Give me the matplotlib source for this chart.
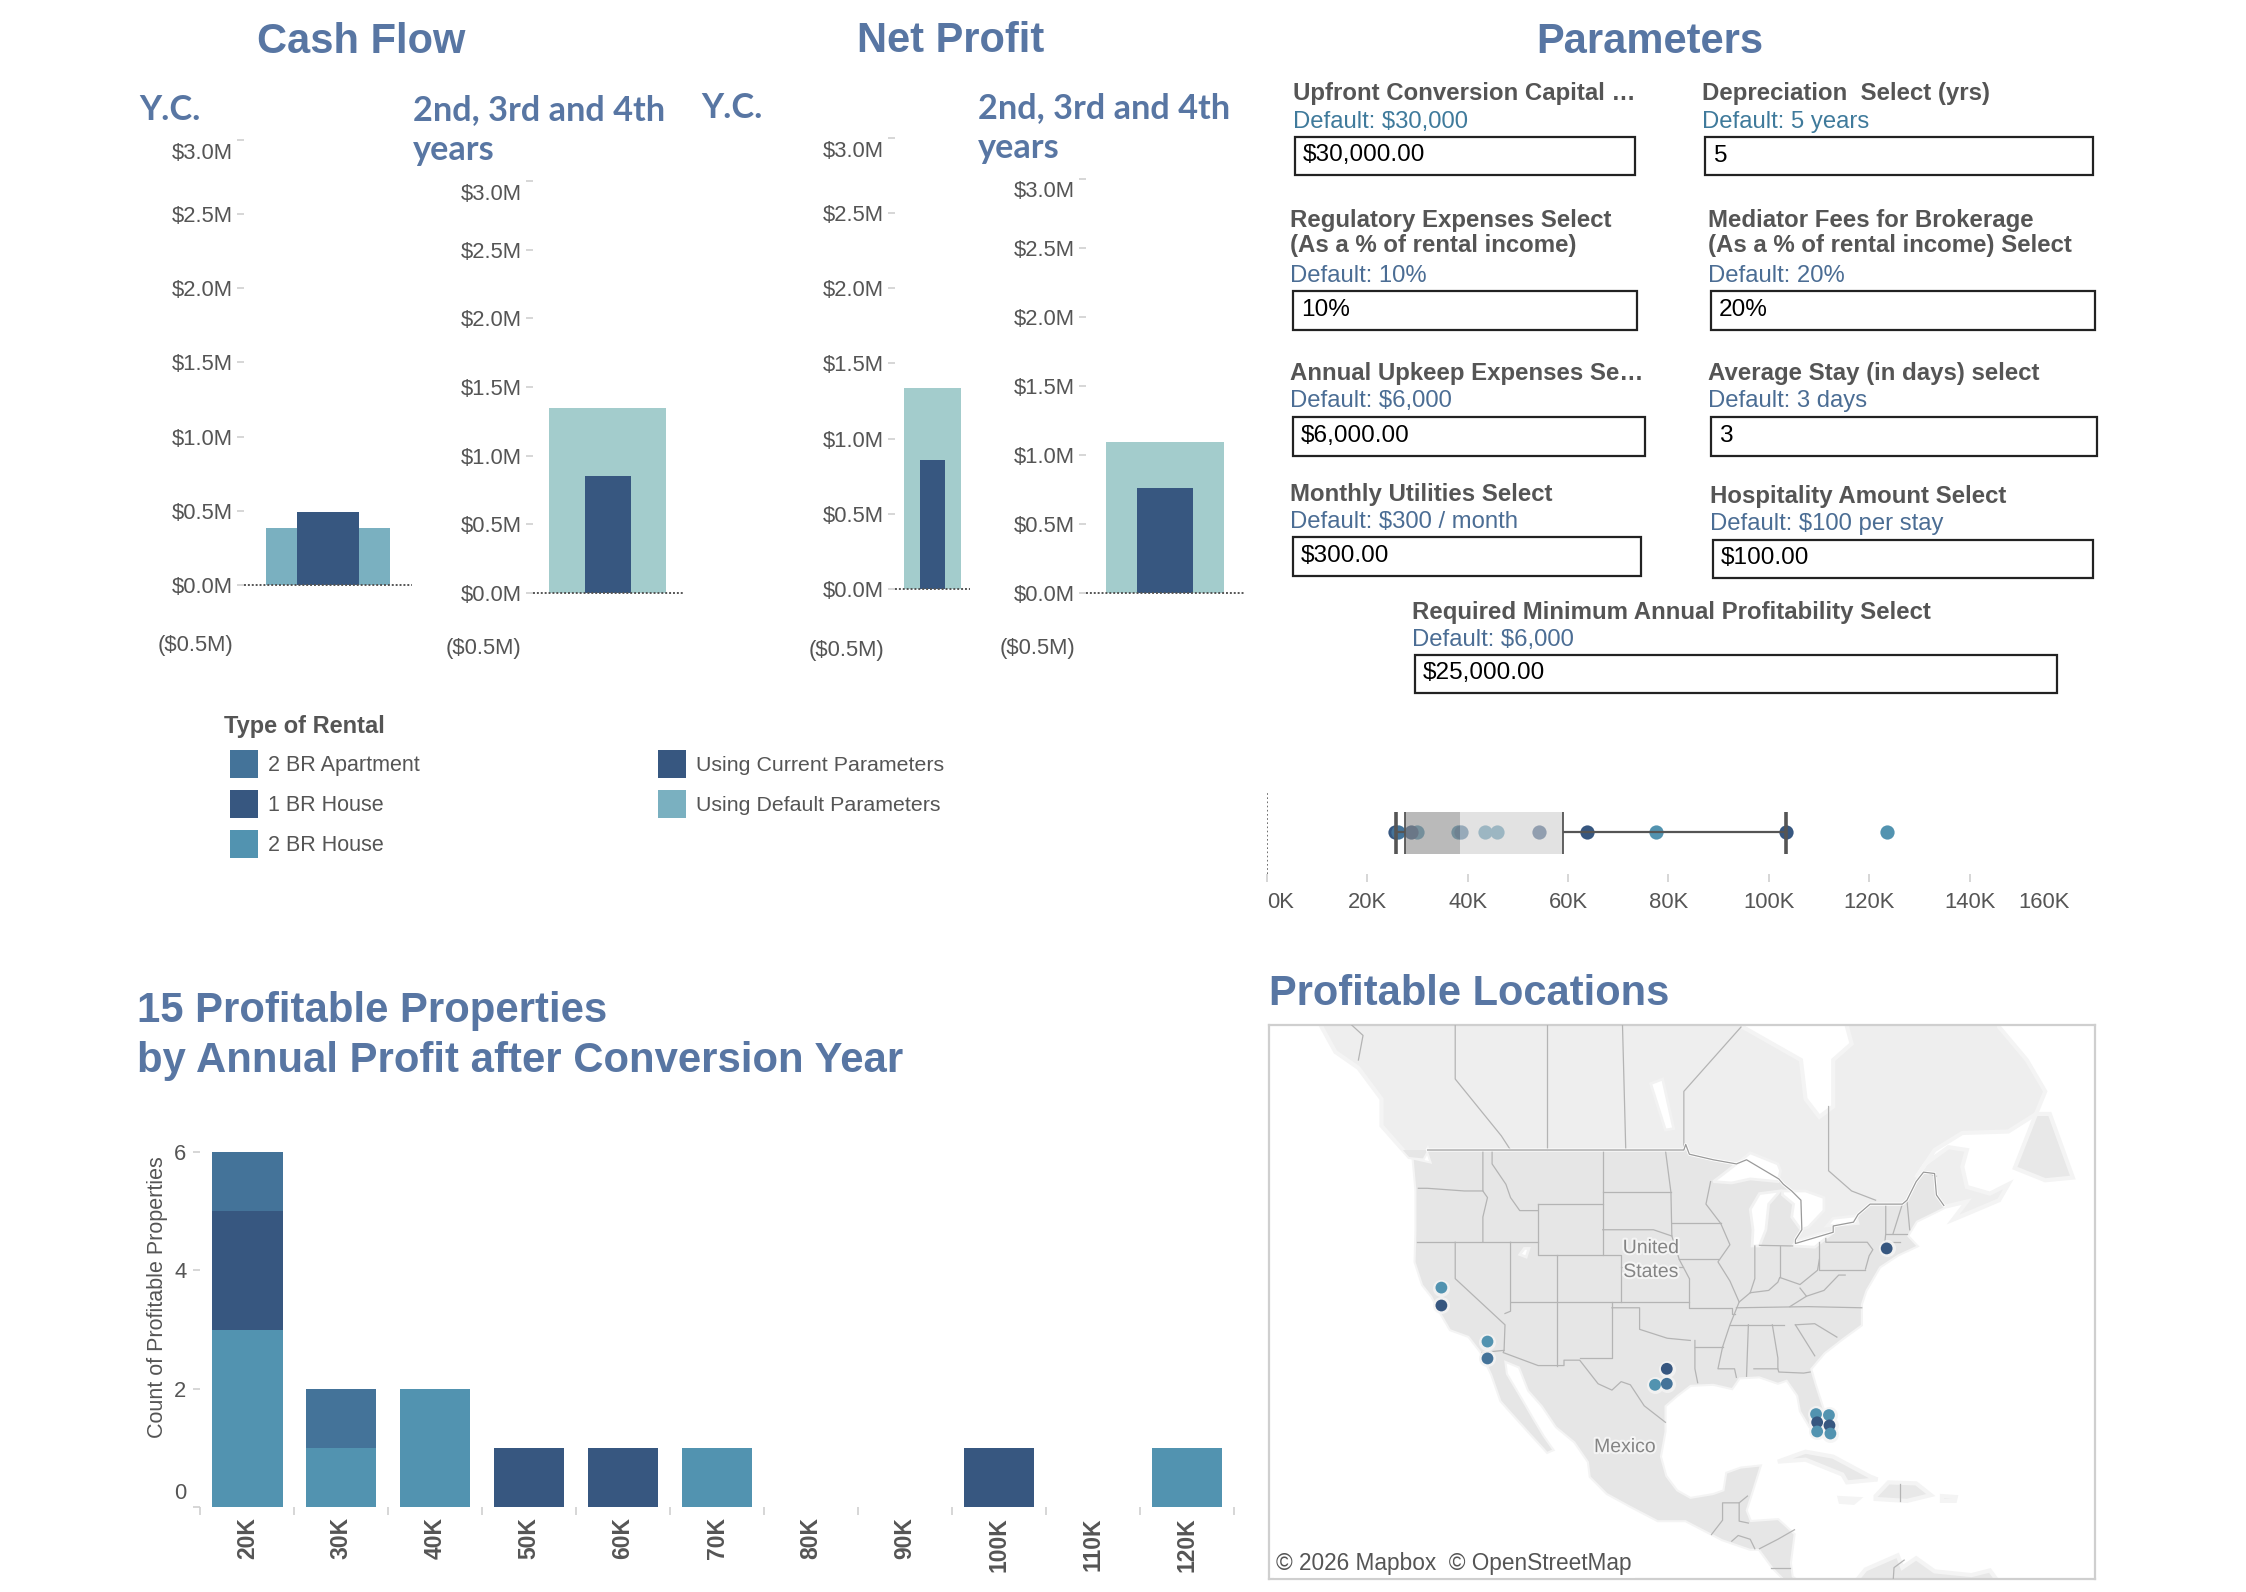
import numpy as np
import matplotlib
matplotlib.use('Agg')
import matplotlib.pyplot as plt
import matplotlib.patheffects as pe
from matplotlib.patches import Rectangle

W, H = 2246, 1592
plt.rcParams['font.family'] = ['Liberation Sans', 'DejaVu Sans']

TITLE = '#5876a3'
GREY = '#555555'
TICK = '#cfcfcf'
APT = '#447399'
HOUSE1 = '#375780'
HOUSE2 = '#5293b0'
DEFAULT_DARK = '#7ab0c0'
DEFAULT_LIGHT = '#a3cccc'

# bullet panels, $M
money_ticks = [-0.5, 0, 0.5, 1.0, 1.5, 2.0, 2.5, 3.0]
money_labels = ['($0.5M)', '$0.0M', '$0.5M', '$1.0M', '$1.5M', '$2.0M', '$2.5M', '$3.0M']
cash_default = [0.38, 1.345]
cash_current = [0.488, 0.85]
profit_default = [1.336, 1.09]
profit_current = [0.858, 0.757]

# histogram
bins = ['20K', '30K', '40K', '50K', '60K', '70K', '80K', '90K', '100K', '110K', '120K']
count_house2 = [3, 1, 2, 0, 0, 1, 0, 0, 0, 0, 1]
count_house1 = [2, 0, 0, 1, 1, 0, 0, 0, 1, 0, 0]
count_apt = [1, 1, 0, 0, 0, 0, 0, 0, 0, 0, 0]

# box plot, annual profit in $K
profit_house2 = [29.9, 38.0, 43.4, 45.9, 77.6, 123.6]
profit_house1 = [25.6, 28.8, 54.3, 63.8, 103.4]
profit_apt = [26.2, 38.6]
box_low, box_q1, box_median, box_q3, box_high = 25.7, 27.6, 38.5, 59.0, 103.4
box_ticks = [0, 20, 40, 60, 80, 100, 120, 140, 160]

# map points (lon, lat)
map_lon = [-121.5, -121.5, -116.5, -116.5, -97.05, -97.05, -98.33, -73.2,
           -80.86, -79.46, -80.74, -79.4, -80.74, -79.3]
map_lat = [38.24, 36.7, 33.5, 31.96, 31.0, 29.6, 29.5, 41.5,
           26.7, 26.6, 25.9, 25.6, 25.0, 24.8]
map_type = ['2', '1', '2', 'a', '1', 'a', '2', '1', '2', '2', '1', '1', '2', '2']

# parameters
param_labels = ['Upfront Conversion Capital …', 'Depreciation  Select (yrs)',
                'Regulatory Expenses Select\n(As a % of rental income)',
                'Mediator Fees for Brokerage\n(As a % of rental income) Select',
                'Annual Upkeep Expenses Se…', 'Average Stay (in days) select',
                'Monthly Utilities Select', 'Hospitality Amount Select',
                'Required Minimum Annual Profitability Select']
param_defaults = ['Default: $30,000', 'Default: 5 years', 'Default: 10%', 'Default: 20%',
                  'Default: $6,000', 'Default: 3 days', 'Default: $300 / month',
                  'Default: $100 per stay', 'Default: $6,000']
param_values = ['$30,000.00', '5', '10%', '20%', '$6,000.00', '3', '$300.00', '$100.00', '$25,000.00']
# left, right, top, bottom of each input box, in pixels
param_boxes = [(1295, 1635, 137, 175), (1705, 2093, 137, 175),
               (1293, 1637, 291, 329.5), (1711, 2095, 291, 329.5),
               (1293, 1645, 417, 455.5), (1711, 2097, 417, 455.5),
               (1293, 1641, 537, 575.5), (1713, 2093, 539.5, 577.5),
               (1415, 2057, 654.5, 693)]

# rough land shapes for the base map (lon, lat)
mainland = [(-137, 58.5), (-135, 57.5), (-133, 55.5), (-130.5, 54.5), (-128, 52.5), (-128, 50.7), (-125, 48.5),
            (-123.5, 48.4), (-123, 49), (-122.5, 48), (-124.5, 48.3), (-124.2, 46), (-124.2, 43), (-124.3, 40.4),
            (-123.5, 38.5), (-122.5, 37.5), (-121.5, 36), (-120.5, 34.6), (-118.5, 34), (-117.2, 32.6), (-116, 30.5),
            (-115, 28), (-114, 27), (-112, 25), (-110, 23), (-109.5, 23.2), (-110.5, 24.5), (-111.5, 26),
            (-112.8, 28), (-114.5, 30.5), (-114.7, 31.8), (-113, 31.2), (-112, 29), (-110.5, 27.5), (-109, 25.5),
            (-107, 24), (-105.5, 22), (-105.3, 20.5), (-103.5, 18.8), (-101, 17.5), (-98, 16), (-95, 16), (-93, 15),
            (-91, 14), (-88, 13), (-87, 13), (-85.5, 11), (-84, 9.5), (-83, 8.3), (-81, 8), (-83.5, 10), (-83.7, 11.5),
            (-83.3, 14.5), (-85, 16), (-88, 15.8), (-88.5, 17), (-88, 18.5), (-87.5, 20), (-87, 21.5), (-89, 21.3),
            (-90.5, 20.8), (-90.8, 19), (-92, 18.6), (-94.5, 18.2), (-96, 19), (-97.2, 20.5), (-97.8, 22.5),
            (-97.3, 25), (-97.3, 27.5), (-96, 28.5), (-94.5, 29.5), (-92, 29.6), (-90, 29.2), (-89.2, 30.2), (-87, 30.3),
            (-85, 29.7), (-84, 30), (-82.8, 28.5), (-82.5, 27), (-81.5, 25.5), (-80.5, 25.2), (-80, 26.8), (-81, 29.5),
            (-81.5, 31), (-80, 32.5), (-78, 33.8), (-76, 35), (-76, 36.8), (-75.5, 38), (-74, 40), (-72, 41), (-70, 41.7),
            (-71, 42.5), (-70, 43.7), (-68, 44.4), (-66.9, 44.8), (-64.5, 45.2), (-66, 43.8), (-64, 44.4), (-61, 45.3),
            (-60, 46.5), (-62, 45.8), (-64.5, 46.3), (-65, 47.8), (-64.5, 49), (-66.5, 49.2), (-69, 48), (-70, 47),
            (-68, 49), (-65, 50.2), (-60, 50.3), (-57, 51.5), (-56, 53), (-58, 55), (-61, 57), (-62, 60), (-78, 60),
            (-78, 58), (-77, 56), (-79, 55), (-79, 52), (-80.5, 51.3), (-82, 52.5), (-82.5, 55), (-88.8, 57), (-90, 60),
            (-140, 60), (-140, 59.5)]
islands = [[(-59.3, 47.7), (-57, 51.5), (-55.5, 51.5), (-53, 47), (-56, 46.8)],
           [(-85, 22), (-82, 23), (-79, 22.5), (-75, 20.5), (-74.2, 20.2), (-77.5, 19.9), (-78, 20.7), (-82, 22.2)],
           [(-74.4, 18.5), (-73, 19.9), (-70, 19.8), (-68.4, 18.6), (-71, 18), (-74.4, 18.2)],
           [(-78.3, 18.3), (-76.3, 18.2), (-76.8, 17.8), (-78.2, 17.9)],
           [(-67.2, 18.5), (-65.7, 18.4), (-65.8, 18), (-67.2, 18)],
           [(-78, 8), (-77.3, 8.6), (-75.5, 10.8), (-72, 12.3), (-71.5, 11), (-70, 12), (-68, 10.6), (-64, 10.2),
            (-62, 10.7), (-60, 8)]]
lakes = [[(-92, 46.7), (-90, 46.6), (-88, 46.9), (-85, 46.7), (-84.7, 47.5), (-85, 48), (-88, 48.8), (-89.5, 48)],
         [(-87.8, 41.7), (-87, 41.7), (-86.3, 43), (-86, 45), (-85, 45.8), (-84.8, 46), (-87, 45.8), (-88, 44.6), (-87.7, 43)],
         [(-84.5, 46), (-82, 46), (-80, 45.5), (-80, 44.5), (-81.7, 43.2), (-82.5, 43), (-83.5, 44), (-83.3, 45), (-84.5, 45.7)],
         [(-83.4, 41.7), (-81, 41.6), (-79, 42.8), (-80.5, 42.7), (-83, 42.1)],
         [(-79.7, 43.3), (-76.3, 43.5), (-76.5, 44.1), (-79, 43.9)],
         [(-97.2, 50.4), (-96.3, 50.5), (-97.5, 53.8), (-98.8, 53.5)],
         [(-112.5, 41.5), (-112, 41.5), (-112.3, 40.8), (-113, 41)]]
border_us_canada = [(-123, 49), (-95.2, 49), (-95, 49.4), (-94.6, 48.7), (-92, 48.3), (-89.5, 48), (-88.4, 48.3),
                    (-84.9, 46.9), (-84.4, 46.5), (-83.5, 46), (-82.5, 45.3), (-82.4, 43), (-83.1, 42.2), (-83.1, 41.9),
                    (-79, 42.8), (-79, 43.3), (-76.8, 43.6), (-76.3, 44.2), (-75, 45), (-71.5, 45), (-71, 45.3),
                    (-70, 46.7), (-69.2, 47.4), (-68, 47.3), (-67.8, 45.7), (-67, 44.9)]
borders = [
    [(-132, 57.5), (-130, 56.5), (-130.5, 55)],
    [(-117.1, 32.5), (-114.7, 32.7), (-114.8, 32.5), (-111, 31.3), (-108.2, 31.3), (-108.2, 31.8), (-106.5, 31.8),
     (-104.5, 29.6), (-103, 29), (-102, 29.8), (-101, 29.5), (-99.5, 27.5), (-97.2, 25.9)],
    [(-92.2, 14.5), (-91, 16), (-91, 17.8), (-89.2, 17.8), (-88.3, 18.5)], [(-89.2, 17.8), (-89.2, 15.9), (-88.2, 15.7)],
    [(-90, 13.8), (-89.3, 14.4), (-88, 14), (-87.5, 13)], [(-87, 13), (-85, 14), (-83.2, 15)], [(-85.7, 11), (-83.7, 11)],
    [(-120, 60), (-120, 53.8), (-115, 50), (-114, 49)], [(-110, 60), (-110, 49)], [(-102, 60), (-101.5, 49)],
    [(-89, 57), (-95.2, 53), (-95.2, 49)], [(-79.5, 52), (-79.5, 47.5), (-77, 46), (-74.4, 45.3)], [(-67.8, 47.1), (-69, 47.4)],
    [(-71.7, 19.7), (-71.7, 18)], [(-71.3, 11.8), (-72.4, 11), (-72.5, 9.5)],
    [(-124, 46.2), (-123, 46.2), (-119, 46), (-117, 46)], [(-117, 49), (-117, 46), (-116.5, 45.5), (-117, 44), (-117, 42)],
    [(-124.2, 42), (-111, 42)], [(-120, 42), (-120, 39), (-114.6, 35), (-114.7, 32.7)], [(-114, 42), (-114, 36.2), (-114.6, 36)],
    [(-114, 37), (-94.6, 37)], [(-109, 41), (-109, 31.3)], [(-111, 45), (-104, 45), (-104, 41), (-111, 41), (-111, 45)],
    [(-116, 49), (-116, 48), (-114.5, 46.5), (-114, 45.5), (-113, 44.5), (-111, 44.5)], [(-104, 49), (-104, 45)],
    [(-104, 45.9), (-96.6, 45.9)], [(-104, 43), (-98.5, 43), (-96.5, 42.5)], [(-104, 41), (-102, 41), (-102, 37)],
    [(-102, 40), (-95.3, 40)], [(-103, 37), (-103, 32), (-106.5, 32)],
    [(-103, 36.5), (-100, 36.5), (-100, 34.6), (-97, 33.8), (-94.5, 33.6)], [(-94.6, 39), (-94.6, 36.5), (-90, 36.5), (-90, 36), (-89.7, 36)],
    [(-94, 33), (-91, 33)], [(-94, 33.6), (-94, 31), (-93.7, 29.7)], [(-91, 33), (-91.5, 31), (-89.7, 31), (-89.5, 30.2)],
    [(-88.2, 35), (-88.4, 30.3)], [(-85.6, 35), (-85, 32), (-85, 31)], [(-87.6, 31), (-85, 31), (-84.9, 30.7), (-82.2, 30.6), (-81.5, 30.7)],
    [(-89.5, 36.5), (-81.7, 36.6), (-75.9, 36.5)], [(-90.2, 35), (-84.3, 35)], [(-83.1, 35), (-81, 35.1), (-78.6, 33.9)],
    [(-83.1, 35), (-81, 32.2)], [(-92.3, 46.7), (-92.8, 45), (-91.2, 43.5)], [(-96.5, 43.5), (-91.2, 43.5)], [(-95.7, 40.6), (-91.5, 40.6)],
    [(-91.2, 43.5), (-90.2, 41.8), (-91.5, 40.4), (-90.2, 38.8), (-89.2, 37), (-89.7, 36), (-90.2, 35), (-91, 33)],
    [(-97.2, 49), (-96.6, 45.9), (-96.5, 42.5), (-95.7, 40.6), (-94.6, 39)], [(-87.5, 41.7), (-87.5, 39), (-88, 37.8)],
    [(-89.2, 37), (-88, 37.8), (-86, 38), (-85, 38.7), (-84.8, 39.1), (-82.6, 38.5), (-80.7, 39.7), (-80.5, 40.6)],
    [(-84.8, 41.7), (-84.8, 39.1)], [(-87, 41.75), (-83.4, 41.7)], [(-80.5, 42), (-80.5, 39.7), (-75.5, 39.7)],
    [(-79.8, 42.3), (-79.8, 42), (-75.3, 42), (-74.7, 41.4), (-75.1, 40.9), (-75.5, 39.8)],
    [(-82.6, 38.2), (-81.9, 37.5), (-83.7, 36.6)], [(-81.9, 37.5), (-80, 38), (-78.4, 39.3), (-77.7, 39.3)],
    [(-73.3, 45), (-73.3, 42.7), (-73.5, 41.2)], [(-71.5, 45), (-72.5, 42.7)], [(-73.3, 42.7), (-71, 42.7)],
    [(-73.5, 42), (-71.8, 42)], [(-71, 45.3), (-70.7, 43)]]


def px_axes(left, top, right, bottom):
    ax = fig.add_axes([left / W, 1 - bottom / H, (right - left) / W, (bottom - top) / H])
    ax.patch.set_alpha(0)
    for s in ax.spines.values():
        s.set_visible(False)
    return ax


def merc(lat):
    return np.log(np.tan(np.radians(45 + np.asarray(lat, dtype=float) / 2)))


def bullet(left, right, top, zero, per_m, default, current, w_default, w_current, default_color):
    ax = px_axes(left, top, right, zero + 0.5 * per_m)
    ax.bar(0, default, width=w_default, color=default_color)
    ax.bar(0, current, width=w_current, color=HOUSE1)
    ax.axhline(0, color=GREY, lw=1.4, ls=(0, (1, 1)))
    ax.set_xlim(-0.5, 0.5)
    ax.set_ylim(-0.5, 3.0)
    ax.set_xticks([])
    # end labels sit inside the pane, so they are placed apart from their ticks
    ax.set_yticks(money_ticks, labels=[''] + money_labels[1:-1] + [''])
    ax.tick_params(axis='y', length=5, width=1.2, color=TICK, labelcolor=GREY, labelsize=15.8, pad=2.8)
    ax.yaxis.get_major_ticks()[0].tick1line.set_visible(False)
    for val, lab, dy in [(money_ticks[0], money_labels[0], 9.5), (money_ticks[-1], money_labels[-1], -9.3)]:
        ax.annotate(lab, (0, val), xycoords=('axes fraction', 'data'), xytext=(-7.8, dy), textcoords='offset points',
                    ha='right', va='center', fontsize=15.8, color=GREY)
    return ax


fig = plt.figure(figsize=(W / 100, H / 100), dpi=100, facecolor='white')
page = fig.add_axes([0, 0, 1, 1])
page.set_xlim(0, W)
page.set_ylim(H, 0)
page.axis('off')


def txt(x, y, s, size=15.5, color=GREY, weight='normal', ha='left', va='center', **kw):
    page.text(x, y, s, fontsize=size, color=color, fontweight=weight, ha=ha, va=va, **kw)


# headings
txt(361.5, 42, 'Cash Flow', 30, TITLE, 'bold', ha='center')
txt(950.5, 40.5, 'Net Profit', 30, TITLE, 'bold', ha='center')
txt(1649.5, 42, 'Parameters', 30, TITLE, 'bold', ha='center')
sub_font = ['Lato', 'DejaVu Sans']
for x, y, s in [(139.5, 110, 'Y.C.'), (413, 110, '2nd, 3rd and 4th'), (413, 150, 'years'),
                (701, 108.5, 'Y.C.'), (978.5, 108.5, '2nd, 3rd and 4th'), (977.5, 148.5, 'years')]:
    txt(x, y, s, 24.7, TITLE, 'bold', family=sub_font)
txt(137, 1011, '15 Profitable Properties', 30.2, TITLE, 'bold')
txt(137, 1061, 'by Annual Profit after Conversion Year', 30.2, TITLE, 'bold')
txt(1269, 994, 'Profitable Locations', 30, TITLE, 'bold')

# bullet charts
bullet(243.8, 412, 140.3, 584.6, 148.1, cash_default[0], cash_current[0], 0.74, 0.373, DEFAULT_DARK)
bullet(532.5, 682.8, 181.1, 592.7, 137.25, cash_default[1], cash_current[1], 0.778, 0.305, DEFAULT_LIGHT)
bullet(894.8, 970.4, 138.3, 588.7, 150.1, profit_default[0], profit_current[0], 0.76, 0.34, DEFAULT_LIGHT)
bullet(1085.9, 1244, 178.7, 592.7, 138.05, profit_default[1], profit_current[1], 0.745, 0.352, DEFAULT_LIGHT)

# legend
txt(224, 727, 'Type of Rental', 17, GREY, 'bold')
for y, name, c in [(763.5, '2 BR Apartment', APT), (803.5, '1 BR House', HOUSE1), (843.5, '2 BR House', HOUSE2)]:
    page.add_patch(Rectangle((230, y - 14), 28, 28, color=c, lw=0))
    txt(268, y + 2, name, 15.5)
for y, name, c in [(763.5, 'Using Current Parameters', HOUSE1), (803.5, 'Using Default Parameters', DEFAULT_DARK)]:
    page.add_patch(Rectangle((658.4, y - 14), 28, 28, color=c, lw=0))
    txt(696.2, y + 2, name, 15.4)

# parameter controls
label_pos = [(1292.8, 93.5), (1702.4, 93.5), (1290.4, 233), (1708.4, 233), (1290.4, 373.8), (1708.4, 373.8),
             (1290.4, 494), (1710, 496), (1412, 612.5)]
default_pos = [122, 122, 275.7, 275.7, 401.5, 401.5, 522.4, 524, 640]
for i, s in enumerate(param_labels):
    x, y = label_pos[i]
    txt(x, y, s, 17.3, GREY, 'bold', linespacing=1.14)
    txt(x, default_pos[i], param_defaults[i], 17.2, '#3f7a9b' if i < 2 else '#4b6d94')
    l, r, t, b = param_boxes[i]
    page.add_patch(Rectangle((l, t), r - l, b - t, fill=False, ec='#222222', lw=1.6))
    txt(l + 8, (t + b) / 2 - 0.5, param_values[i], 17.6, 'black')

# box plot of profit per property
ax = px_axes(1266.9, 791.8, 2070, 874.4)
for vals, c in [(profit_house2, HOUSE2), (profit_house1, HOUSE1), (profit_apt, APT)]:
    ax.scatter(vals, [0.02] * len(vals), s=105, color=c, lw=0, zorder=2)
ax.barh(0, box_median - box_q1, left=box_q1, height=1.0, color='#8d8d8d', alpha=0.6, zorder=3)
ax.barh(0, box_q3 - box_median, left=box_median, height=1.0, color='#cfcfcf', alpha=0.6, zorder=3)
ax.hlines(0.02, box_low, box_q1, color=GREY, lw=1.6, zorder=4)
ax.hlines(0.02, box_q3, box_high, color=GREY, lw=1.6, zorder=4)
ax.vlines([box_q1, box_q3], -0.5, 0.5, color=GREY, lw=1.3, zorder=4)
ax.vlines([box_low, box_high], -0.5, 0.5, color=GREY, lw=2.6, zorder=4)
ax.axvline(0, color=GREY, lw=1.2, ls=(0, (1, 1.5)))
ax.set_xlim(0, 160)
ax.set_ylim(-1, 1)
ax.set_yticks([])
ax.set_xticks(box_ticks, labels=[f'{v}K' for v in box_ticks])
ax.tick_params(axis='x', length=6, width=1.2, color=TICK, labelcolor=GREY, labelsize=15.8, pad=6.5)
ax.xaxis.get_major_ticks()[-1].tick1line.set_visible(False)
ax.get_xticklabels()[0].set_ha('left')
ax.get_xticklabels()[-1].set_ha('right')

# histogram
ax = px_axes(200.3, 1152, 1233.8, 1507.3)
x = np.arange(len(bins))
h2, h1, ap = map(np.array, (count_house2, count_house1, count_apt))
ax.bar(x, h2, width=0.75, color=HOUSE2)
ax.bar(x, h1, width=0.75, bottom=h2, color=HOUSE1)
ax.bar(x, ap, width=0.75, bottom=h2 + h1, color=APT)
ax.set_xlim(-0.5, len(bins) - 0.5)
ax.set_ylim(0, 6)
ax.set_yticks([0, 2, 4, 6], labels=['', '2', '4', '6'])
ax.tick_params(axis='y', length=5, width=1.2, color=TICK, labelcolor=GREY, labelsize=15.8, pad=5)
ax.annotate('0', (0, 0), xycoords=('axes fraction', 'data'), xytext=(-10, 10), textcoords='offset points',
            ha='right', va='center', fontsize=15.8, color=GREY)
ax.set_xticks(np.arange(len(bins) + 1) - 0.5, labels=[''] * (len(bins) + 1))
ax.tick_params(axis='x', length=6, width=1.2, color=TICK, pad=0)
ax.set_xticks(x, labels=bins, minor=True)
ax.tick_params(axis='x', which='minor', length=0, labelcolor=GREY, labelsize=16.5, labelrotation=90, pad=7)
for t in ax.get_xticklabels(minor=True):
    t.set_fontweight('bold')
    t.set_va('top')
    t.set_ha('center')
txt(158, 1297, 'Count of Profitable Properties', 15.5, GREY, rotation=90, ha='center')

# map
ax = px_axes(1269, 1025, 2095, 1579)
ax.set_xlim(-140.2, -50.6)
ax.set_ylim(0.1716, 1.2205)
ax.patch.set_alpha(1)
lon, lat = zip(*mainland)
land = ax.fill(lon, merc(lat), color='#eeeeee', ec='#f4f4f4', lw=3, zorder=1)[0]
# US and everything south is a shade darker than Canada
lon, lat = zip(*(border_us_canada + [(-60, 5), (-130, 5), (-130, 49)]))
south = ax.fill(lon, merc(lat), color='#e6e6e6', lw=0, zorder=1)[0]
south.set_clip_path(land)
for shape in islands:
    lon, lat = zip(*shape)
    ax.fill(lon, merc(lat), color='#e8e8e8', ec='#f4f4f4', lw=3, zorder=1)
for shape in lakes:
    lon, lat = zip(*shape)
    ax.fill(lon, merc(lat), color='white', ec='#f2f2f2', lw=2, zorder=2)
for line in borders:
    lon, lat = zip(*line)
    ax.plot(lon, merc(lat), color='#b4b4b4', lw=0.9, zorder=3)
lon, lat = zip(*border_us_canada)
ax.plot(lon, merc(lat), color='#9a9a9a', lw=0.9, zorder=3,
        path_effects=[pe.Stroke(linewidth=2.2, foreground='white'), pe.Normal()])
halo = [pe.withStroke(linewidth=3, foreground='#f4f4f4')]
type_colors = {'a': APT, '1': HOUSE1, '2': HOUSE2}
ax.scatter(map_lon, merc(map_lat), s=150, color='#f4f4f4', alpha=0.85, lw=0, zorder=4)
ax.scatter(map_lon, merc(map_lat), s=72, c=[type_colors[t] for t in map_type], lw=0, zorder=5)
for s in ax.spines.values():
    s.set_visible(True)
    s.set_color('#cfcfcf')
    s.set_linewidth(1.6)
ax.set_xticks([])
ax.set_yticks([])
for px, py, s in [(1651, 1248.6, 'United'), (1651, 1272.5, 'States'), (1625, 1447.6, 'Mexico')]:
    fig.text(px / W, 1 - py / H, s, fontsize=14, color='#858585', ha='center', va='center', path_effects=halo)
fig.text(1276.5 / W, 1 - 1563.5 / H, '© 2026 Mapbox  © OpenStreetMap', fontsize=16.3, color=GREY, va='center',
         bbox=dict(facecolor='white', alpha=0.6, lw=0, pad=2))

fig.savefig('out.png', dpi=100)
